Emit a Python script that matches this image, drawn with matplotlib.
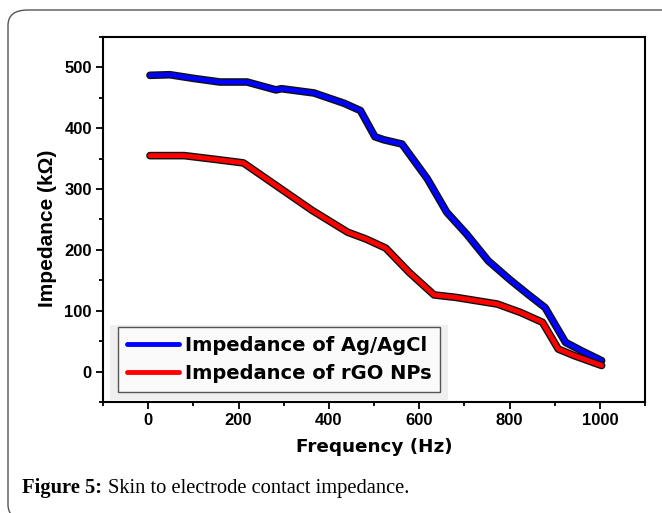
import matplotlib.pyplot as plt
import matplotlib.patheffects as pe
from matplotlib.patches import FancyBboxPatch, Rectangle
from matplotlib.ticker import MultipleLocator

# ── data ────────────────────────────────────────────────────────────────────
freq_agcl = [4, 48, 100, 159, 219, 283, 295, 367, 434, 470, 502, 522, 562,
             618, 661, 705, 753, 801, 841, 879, 924, 960, 1004]
imp_agcl = [487, 488, 482, 476, 476, 463, 465, 458, 441, 429, 386, 381, 374,
            317, 262, 226, 182, 151, 127, 105, 48, 34, 18]

freq_rgo = [4, 80, 147, 211, 283, 363, 442, 482, 526, 578, 633, 681, 773,
            825, 873, 908, 944, 1004]
imp_rgo = [355, 355, 349, 343, 306, 265, 229, 218, 203, 163, 126, 122, 111,
           97, 81, 37, 26, 10]

labels = ["Impedance of Ag/AgCl", "Impedance of rGO NPs"]

ARIAL = ["Liberation Sans", "DejaVu Sans"]
WIDE = ["DejaVu Sans"]
plt.rcParams["font.family"] = ARIAL

fig = plt.figure(figsize=(6.62, 5.13), dpi=100)
fig.patch.set_facecolor("white")

# rounded outer frame (runs off the right/bottom edge)
frame = FancyBboxPatch((8 / 662, 1 - 520 / 513), 680 / 662, 510 / 513,
                       boxstyle="round,pad=0,rounding_size=0.03",
                       transform=fig.transFigure, facecolor="none",
                       edgecolor="#555555", linewidth=1.0)
fig.patches.append(frame)

ax = fig.add_axes([103 / 662, 1 - 402 / 513, 542 / 662, 365 / 513])

stroke = [pe.Stroke(linewidth=5.5, foreground="#111111"), pe.Normal()]
ax.plot(freq_agcl, imp_agcl, color="#0000ff", lw=3.5, label=labels[0],
        solid_capstyle="round", path_effects=stroke)
ax.plot(freq_rgo, imp_rgo, color="#ff0000", lw=3.5, label=labels[1],
        solid_capstyle="round", path_effects=stroke)

ax.set_xlim(-100, 1100)
ax.set_ylim(-50, 550)
ax.xaxis.set_major_locator(MultipleLocator(200))
ax.xaxis.set_minor_locator(MultipleLocator(100))
ax.yaxis.set_major_locator(MultipleLocator(100))
ax.yaxis.set_minor_locator(MultipleLocator(50))
ax.tick_params(which="both", direction="out", width=1.3, top=False, right=False)
ax.tick_params(which="major", length=5, labelsize=12, pad=3)
ax.tick_params(which="minor", length=3)
for lab in ax.get_xticklabels() + ax.get_yticklabels():
    lab.set_fontweight("bold")
for s in ax.spines.values():
    s.set_linewidth(1.5)

ax.set_xlabel("Frequency (Hz)", fontsize=13.2, fontweight="bold",
              labelpad=7, family=WIDE)
ax.set_ylabel("Impedance (k\u03a9)", fontsize=15, fontweight="bold")
ax.yaxis.set_label_coords(-0.085, 0.477)

# light grey band behind the legend
ax.add_patch(Rectangle((110 / 662, 1 - 400 / 513), 338 / 662, 75 / 513,
                       transform=fig.transFigure, facecolor="#efefef",
                       edgecolor="none", zorder=4))

leg = ax.legend(loc="lower left", bbox_to_anchor=(15 / 542, 10 / 365),
                borderaxespad=0, handlelength=2.7,
                handletextpad=0.3, labelspacing=0.5, borderpad=0.45,
                fancybox=False, framealpha=1, edgecolor="#555555",
                facecolor="#fafafa",
                prop={"family": WIDE, "weight": "bold", "size": 14})
leg.get_frame().set_linewidth(1.0)
leg.set_zorder(5)
for h in leg.get_lines():
    h.set_path_effects([])
    h.set_linewidth(3.5)

# caption: bold lead-in followed by plain text
cap_y = 1 - 488 / 513
t1 = fig.text(22 / 662, cap_y, "Figure 5:", fontsize=14.8,
              fontweight="bold", family="Liberation Serif", va="center")
fig.canvas.draw()
bb = t1.get_window_extent()
fig.text(bb.x1 / fig.bbox.width + 6 / 662, cap_y,
         "Skin to electrode contact impedance.",
         fontsize=14.8, family="Liberation Serif", va="center")

fig.savefig("out.png", dpi=100)
